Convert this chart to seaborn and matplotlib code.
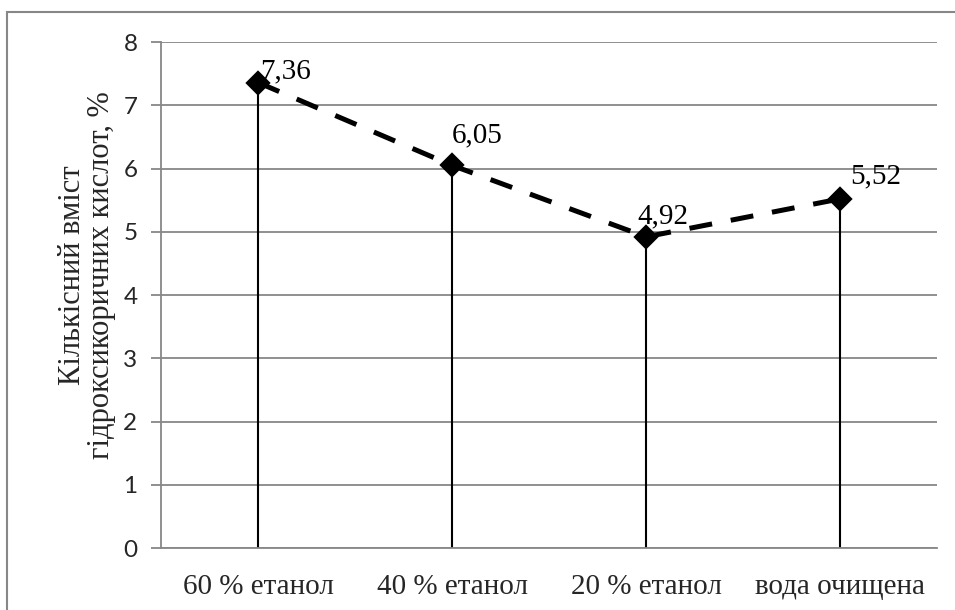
import matplotlib
matplotlib.use("Agg")
import matplotlib.pyplot as plt
import seaborn as sns
import pandas as pd
from matplotlib.patches import Rectangle

# Extraction solvents and measured hydroxycinnamic acid content
categories = ["60 % етанол", "40 % етанол", "20 % етанол", "вода очищена"]
values = [7.36, 6.05, 4.92, 5.52]
value_labels = ["7,36", "6,05", "4,92", "5,52"]
y_ticks = [0, 1, 2, 3, 4, 5, 6, 7, 8]
y_label = "Кількісний вміст\nгідроксикоричних кислот, %"

df = pd.DataFrame({"solvent": categories, "content": values})

sns.set_theme(style="white")
serif = ["Liberation Serif", "DejaVu Serif"]
sans = ["Lato", "DejaVu Sans"]
grey = "#878787"

fig = plt.figure(figsize=(9.55, 6.10), dpi=100)
ax = fig.add_axes([0.1686, 0.1016, 0.9812 - 0.1686, 0.9311 - 0.1016])

# horizontal gridlines
for t in y_ticks:
    ax.axhline(t, color=grey, lw=1.3, zorder=0)

# drop lines from each point down to zero
xs = list(range(len(categories)))
ax.vlines(xs, 0, values, color="black", lw=1.5, zorder=2)

sns.pointplot(data=df, x="solvent", y="content", color="black",
              markers="D", linestyles=(0, (4.6, 3.8)), errorbar=None,
              markersize=10.5, linewidth=3.6, ax=ax, zorder=3)

# value labels placed above-right of the markers
offsets = [(19.5, 3), (18, 16.5), (12, 9.5), (26, 11.5)]
for x, v, lab, (dx, dy) in zip(xs, values, value_labels, offsets):
    ax.annotate(lab, (x, v), xytext=(dx, dy), textcoords="offset points",
                ha="center", va="baseline", fontsize=21, family=serif,
                color="black", zorder=4)

ax.set_xlim(-0.5, len(categories) - 0.5)
ax.set_ylim(0, 8)
ax.set_yticks(y_ticks)
ax.set_yticklabels([str(t) for t in y_ticks], family=sans, fontsize=17.5)
ax.set_xticks(xs)
ax.set_xticklabels(categories, family=serif, fontsize=21)
ax.tick_params(axis="y", left=True, length=7, width=1.3, color=grey, pad=10)
ax.tick_params(axis="x", bottom=False, pad=13)
ax.set_xlabel("")
ax.set_ylabel(y_label, family=serif, fontsize=22, labelpad=5,
              linespacing=1.0)
ax.yaxis.label.set_y(0.54)

for side in ["top", "right"]:
    ax.spines[side].set_visible(False)
for side in ["left", "bottom"]:
    ax.spines[side].set_color(grey)
    ax.spines[side].set_linewidth(1.3)

# chart area frame
fig.patches.append(Rectangle((7 / 955, -0.1), 1.2, (610 - 12) / 610 + 0.1,
                             transform=fig.transFigure, fill=False,
                             edgecolor=grey, lw=1.5))

fig.savefig("out.png", dpi=100)
